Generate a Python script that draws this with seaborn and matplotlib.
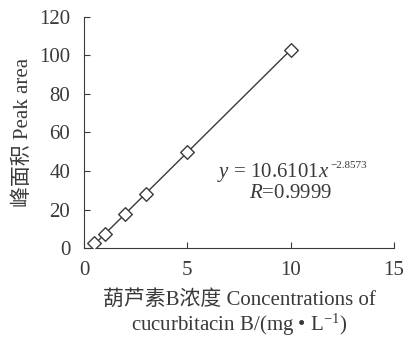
import numpy as np
import pandas as pd
import seaborn as sns
import matplotlib
matplotlib.use("Agg")
import matplotlib.pyplot as plt

conc = [0.5, 1, 2, 3, 5, 10]
peak_area = [2.4, 7.2, 17.6, 28.0, 49.6, 103.0]
x_ticks = [0, 5, 10, 15]
y_ticks = [0, 20, 40, 60, 80, 100, 120]
eq_main = r"$y$ = 10.6101$x$"
eq_sup = "\u22122.8573"
r_text = r"$R$=0.9999"
xlabel = "葫芦素B浓度 Concentrations of\ncucurbitacin B/(mg • L$^{-1}$)"
ylabel = "峰面积 Peak area"

sns.set_theme(style="ticks")
plt.rcParams['font.family'] = ['Liberation Serif', 'Noto Sans CJK SC']
plt.rcParams['mathtext.fontset'] = 'custom'
plt.rcParams['mathtext.rm'] = 'Liberation Serif'
plt.rcParams['mathtext.it'] = 'Liberation Serif:italic'

col = "#3a3a3a"
df = pd.DataFrame({"conc": conc, "area": peak_area})

fig = plt.figure(figsize=(4.04, 3.37), dpi=100)
ax = fig.add_axes([0.208, 0.264, 0.767, 0.686])
sns.regplot(data=df, x="conc", y="area", ax=ax, ci=None,
            marker="D",
            scatter_kws=dict(s=48, facecolor="white", edgecolor=col, linewidths=1.0, zorder=3, alpha=1),
            line_kws=dict(color=col, lw=1.0, zorder=2))
ax.set_xlim(0, 15)
ax.set_ylim(0, 120)
ax.set_xticks(x_ticks)
ax.set_yticks(y_ticks)
ax.tick_params(direction="in", length=4, width=0.8, colors=col, labelsize=15)
ax.tick_params(axis="x", pad=9)
ax.tick_params(axis="y", pad=10)
for s in ["top", "right"]:
    ax.spines[s].set_visible(False)
for s in ["left", "bottom"]:
    ax.spines[s].set_color(col)
    ax.spines[s].set_linewidth(0.8)
ax.set_xlabel(xlabel, fontsize=15, color=col, labelpad=8, linespacing=1.1)
ax.set_ylabel(ylabel, fontsize=15, color=col, labelpad=4)
t = ax.text(0.79, 0.325, eq_main, transform=ax.transAxes, ha="right", va="center", fontsize=15, color=col)
ax.annotate(eq_sup, xy=(1.0, 0.62), xycoords=t, xytext=(1, 0), textcoords="offset points",
            ha="left", va="bottom", fontsize=8, color=col)
ax.text(0.668, 0.238, r_text, transform=ax.transAxes, ha="center", va="center", fontsize=15, color=col)
fig.savefig("out.png", dpi=100)
